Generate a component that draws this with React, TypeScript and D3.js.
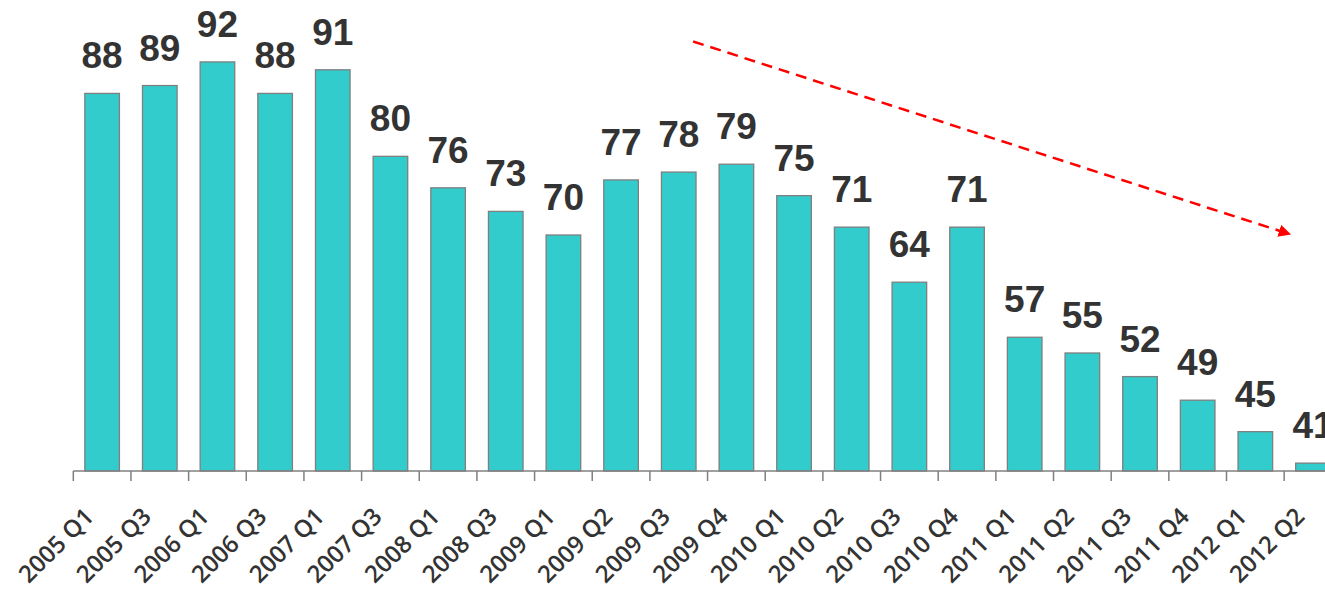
import React, { useEffect, useRef } from "react";
import * as d3 from "d3";

const categories = [
  "2005 Q1", "2005 Q3", "2006 Q1", "2006 Q3", "2007 Q1", "2007 Q3",
  "2008 Q1", "2008 Q3", "2009 Q1", "2009 Q2", "2009 Q3", "2009 Q4",
  "2010 Q1", "2010 Q2", "2010 Q3", "2010 Q4", "2011 Q1", "2011 Q2",
  "2011 Q3", "2011 Q4", "2012 Q1", "2012 Q2",
];
const values = [88, 89, 92, 88, 91, 80, 76, 73, 70, 77, 78, 79, 75, 71, 64, 71, 57, 55, 52, 49, 45, 41];

// trend arrow annotation in data units: [band-step position, value]
const trendStart = [10.75, 94.6];
const trendEnd = [21.1, 70.1];

const W = 1325;
const H = 592;

export default function App() {
  const ref = useRef<SVGSVGElement | null>(null);

  useEffect(() => {
    const svg = d3.select(ref.current);
    svg.selectAll("*").remove();

    const x0 = 73.3;
    const step = 57.66;
    const x = d3
      .scaleBand<string>()
      .domain(categories)
      .range([x0, x0 + step * categories.length])
      .paddingInner(0.4)
      .paddingOuter(0.2);
    const y = d3.scaleLinear().domain([40, 100]).range([471, -1]);

    const defs = svg.append("defs");
    defs
      .append("marker")
      .attr("id", "arrowhead")
      .attr("viewBox", "0 0 10 10")
      .attr("refX", 9)
      .attr("refY", 5)
      .attr("markerWidth", 5)
      .attr("markerHeight", 5)
      .attr("markerUnits", "strokeWidth")
      .attr("orient", "auto")
      .append("path")
      .attr("d", "M0,0 L10,5 L0,10 Z")
      .attr("fill", "#ff0000");

    // bars
    svg
      .append("g")
      .selectAll("rect")
      .data(values)
      .join("rect")
      .attr("x", (_, i) => x(categories[i])!)
      .attr("y", (d) => y(d))
      .attr("width", x.bandwidth())
      .attr("height", (d) => y(40) - y(d))
      .attr("fill", "#33cccc")
      .attr("stroke", "#7f7f7f")
      .attr("stroke-width", 1.3);

    // value labels
    svg
      .append("g")
      .selectAll("text")
      .data(values)
      .join("text")
      .attr("x", (_, i) => x(categories[i])! + x.bandwidth() / 2)
      .attr("y", (d) => y(d) - 25)
      .attr("text-anchor", "middle")
      .attr("font-family", "'Liberation Sans', Arial, sans-serif")
      .attr("font-weight", "bold")
      .attr("font-size", 37)
      .attr("fill", "#333333")
      .text((d) => d);

    // axis line and ticks at band boundaries
    const axis = svg.append("g");
    const [r0, r1] = x.range();
    axis
      .append("line")
      .attr("x1", r0)
      .attr("x2", r1)
      .attr("y1", y(40))
      .attr("y2", y(40))
      .attr("stroke", "#808080")
      .attr("stroke-width", 1.5);
    axis
      .selectAll("line.tick")
      .data(d3.range(categories.length + 1))
      .join("line")
      .attr("class", "tick")
      .attr("x1", (i) => r0 + i * x.step())
      .attr("x2", (i) => r0 + i * x.step())
      .attr("y1", y(40))
      .attr("y2", y(40) + 10)
      .attr("stroke", "#808080")
      .attr("stroke-width", 1.5);

    axis
      .selectAll("text")
      .data(categories)
      .join("text")
      .attr(
        "transform",
        (d) => `translate(${x(d)! + x.bandwidth() / 2 - 7},${y(40) + 47}) rotate(-45)`
      )
      .attr("text-anchor", "end")
      .attr("font-family", "'Open Sans', sans-serif")
      .attr("font-weight", 600)
      .attr("font-size", 24)
      .attr("fill", "#333333")
      .text((d) => d);

    // trend arrow
    svg
      .append("line")
      .attr("x1", r0 + trendStart[0] * x.step())
      .attr("y1", y(trendStart[1]))
      .attr("x2", r0 + trendEnd[0] * x.step())
      .attr("y2", y(trendEnd[1]))
      .attr("stroke", "#ff0000")
      .attr("stroke-width", 2.5)
      .attr("stroke-dasharray", "11,7")
      .attr("marker-end", "url(#arrowhead)");
  }, []);

  return (
    <div style={{ position: "absolute", left: 0, top: 0 }}>
      <svg ref={ref} width={W} height={H} style={{ display: "block", background: "#fff" }} />
    </div>
  );
}
